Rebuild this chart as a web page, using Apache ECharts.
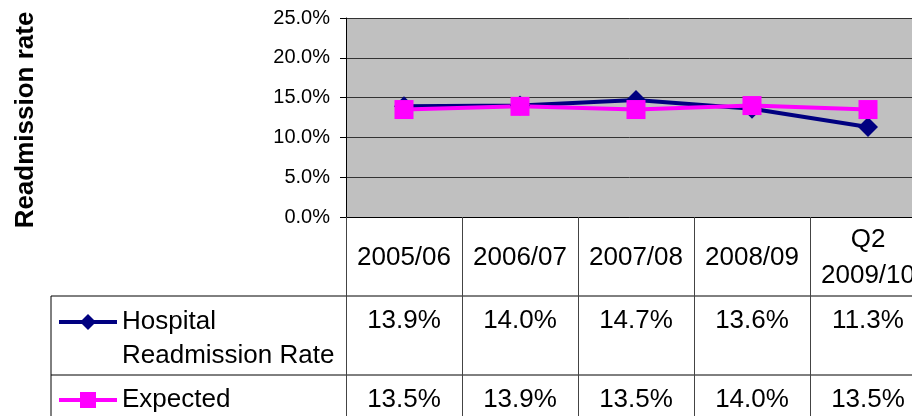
<!DOCTYPE html>
<html>
<head>
<meta charset="utf-8">
<script src="https://cdn.jsdelivr.net/npm/echarts@6/dist/echarts.min.js"></script>
<style>
  html, body { margin: 0; padding: 0; background: #fff; }
  #chart { width: 912px; height: 416px; }
</style>
</head>
<body>
<div id="chart"></div>
<script>
// Periods shown along the category axis / table header
const categories = ['2005/06', '2006/07', '2007/08', '2008/09', 'Q2\n2009/10'];
// Rates in percent
const hospitalRate = [13.9, 14.0, 14.7, 13.6, 11.3];
const expectedRate = [13.5, 13.9, 13.5, 14.0, 13.5];
const seriesNames = ['Hospital Readmission Rate', 'Expected'];
// Legend text; the leading blank line keeps the key level with the first text line
const legendLabels = [' \nHospital\nReadmission Rate', 'Expected'];
// Value axis range
const yMin = 0, yMax = 25, yStep = 5;

const FONT = '"Liberation Sans", Arial, Helvetica, sans-serif';
const PLOT = { left: 346, top: 18, width: 580, height: 199 };
const TABLE_LEFT = 51;
const ROW_H = 79;
const AXIS_Y = PLOT.top + PLOT.height;

const pct = v => v.toFixed(1) + '%';

const tableText = { fontFamily: FONT, fontSize: 26, color: '#000' };

const chart = echarts.init(document.getElementById('chart'), null, { renderer: 'canvas' });

chart.setOption({
  animation: false,
  backgroundColor: '#fff',
  grid: {
    left: PLOT.left, top: PLOT.top, width: PLOT.width, height: PLOT.height,
    outerBoundsMode: 'none', containLabel: false,
    show: true, backgroundColor: '#c0c0c0', borderWidth: 0
  },
  xAxis: [
    {
      type: 'category', data: categories, position: 'bottom', boundaryGap: true,
      axisLine: { show: true, onZero: false, lineStyle: { color: '#000', width: 1 } },
      axisTick: { show: true, interval: 0, length: ROW_H * 3, lineStyle: { color: '#444', width: 1 } },
      axisLabel: Object.assign({ interval: 0, margin: ROW_H / 2 + 1, verticalAlign: 'middle', lineHeight: 36, align: 'center' }, tableText),
      splitLine: { show: false }
    },
    {
      type: 'category', data: categories, position: 'bottom',
      axisLine: { show: false }, axisTick: { show: false }, splitLine: { show: false },
      axisLabel: Object.assign({
        interval: 0, margin: ROW_H + 25, verticalAlign: 'middle',
        formatter: (v, i) => pct(hospitalRate[i])
      }, tableText)
    },
    {
      type: 'category', data: categories, position: 'bottom',
      axisLine: { show: false }, axisTick: { show: false }, splitLine: { show: false },
      axisLabel: Object.assign({
        interval: 0, margin: ROW_H * 2 + 25, verticalAlign: 'middle',
        formatter: (v, i) => pct(expectedRate[i])
      }, tableText)
    }
  ],
  yAxis: {
    type: 'value', min: yMin, max: yMax, interval: yStep,
    name: 'Readmission rate', nameLocation: 'middle', nameGap: 307, nameRotate: 90,
    nameTextStyle: { fontFamily: FONT, fontSize: 26, fontWeight: 'bold', color: '#000', padding: [0, 5, 0, 0] },
    axisLine: { show: true, lineStyle: { color: '#000', width: 1 } },
    axisTick: { show: true, length: 6, lineStyle: { color: '#000' } },
    axisLabel: { fontFamily: FONT, fontSize: 20, color: '#000', margin: 16, formatter: v => pct(v) },
    splitLine: { show: true, lineStyle: { color: '#333', width: 1 } }
  },
  legend: [
    {
      data: [seriesNames[0]], left: 57, top: 271, padding: 0,
      itemWidth: 58, itemHeight: 20, selectedMode: false,
      lineStyle: { width: 4 },
      formatter: () => legendLabels[0],
      textStyle: Object.assign({ lineHeight: 34 }, tableText)
    },
    {
      data: [seriesNames[1]], left: 57, top: 383, padding: 0,
      itemWidth: 58, itemHeight: 20, selectedMode: false,
      lineStyle: { width: 4 },
      formatter: () => legendLabels[1],
      textStyle: Object.assign({ lineHeight: 34 }, tableText)
    }
  ],
  series: [
    {
      name: seriesNames[0], type: 'line', data: hospitalRate,
      symbol: 'diamond', symbolSize: 20, showAllSymbol: true,
      itemStyle: { color: '#000080' },
      lineStyle: { color: '#000080', width: 4 }
    },
    {
      name: seriesNames[1], type: 'line', data: expectedRate,
      symbol: 'rect', symbolSize: 19, showAllSymbol: true,
      itemStyle: { color: '#ff00ff' },
      lineStyle: { color: '#ff00ff', width: 4 }
    }
  ],
  graphic: [
    // table row separators and left border
    { type: 'line', silent: true, shape: { x1: TABLE_LEFT, y1: AXIS_Y + ROW_H, x2: PLOT.left + PLOT.width, y2: AXIS_Y + ROW_H }, style: { stroke: '#000', lineWidth: 1 } },
    { type: 'line', silent: true, shape: { x1: TABLE_LEFT, y1: AXIS_Y + ROW_H * 2, x2: PLOT.left + PLOT.width, y2: AXIS_Y + ROW_H * 2 }, style: { stroke: '#000', lineWidth: 1 } },
    { type: 'line', silent: true, shape: { x1: TABLE_LEFT, y1: AXIS_Y + ROW_H, x2: TABLE_LEFT, y2: AXIS_Y + ROW_H * 3 }, style: { stroke: '#000', lineWidth: 1 } }
  ]
});
</script>
</body>
</html>
